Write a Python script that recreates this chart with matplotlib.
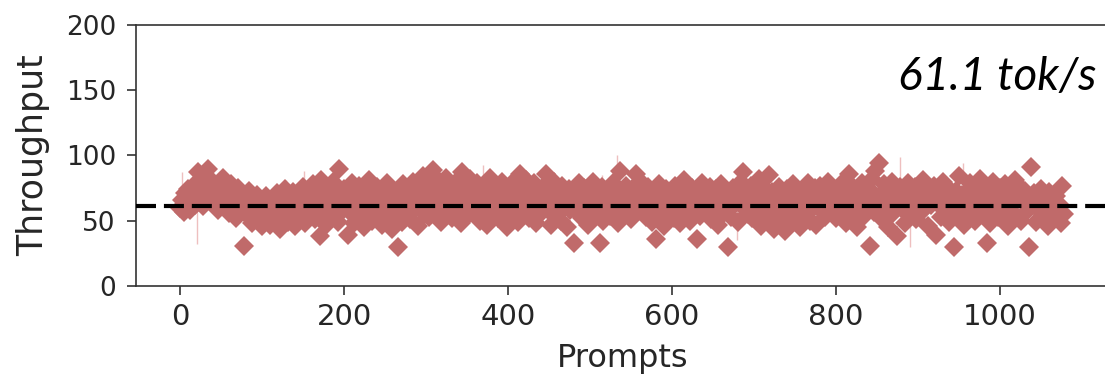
import matplotlib

matplotlib.use("Agg")
import matplotlib.pyplot as plt
import numpy as np

# Per-prompt throughput (tok/s); one value every 2 prompts.
throughput = [
    60, 66, 57, 71, 63, 74, 58, 68, 77, 62, 70, 87, 65, 79, 61, 73, 82, 90, 69, 76,
    80, 64, 72, 58, 77, 67, 83, 60, 74, 69, 56, 78, 63, 71, 52, 75, 66, 59, 70, 31,
    68, 54, 73, 61, 48, 66, 57, 70, 51, 64, 46, 59, 69, 53, 62, 47, 65, 56, 50, 71,
    58, 44, 67, 52, 74, 61, 49, 63, 55, 72, 46, 60, 68, 53, 57, 76, 48, 64, 59, 70,
    62, 78, 51, 73, 66, 38, 81, 57, 69, 47, 75, 63, 55, 80, 60, 72, 49, 90, 67, 58,
    74, 64, 39, 70, 56, 79, 48, 66, 61, 77, 53, 69, 45, 73, 59, 81, 62, 50, 68, 57,
    76, 54, 65, 47, 71, 60, 79, 52, 67, 44, 73, 58, 63, 30, 69, 49, 78, 56, 64, 72,
    51, 66, 80, 59, 70, 46, 75, 62, 84, 55, 68, 77, 53, 72, 89, 64, 58, 81, 67, 49,
    74, 61, 83, 56, 69, 78, 52, 65, 80, 59, 71, 48, 87, 63, 76, 54, 68, 82, 60, 73,
    57, 79, 64, 50, 72, 61, 77, 47, 68, 83, 55, 70, 62, 75, 52, 66, 80, 58, 73, 45,
    69, 60, 78, 54, 71, 65, 49, 86, 63, 75, 57, 81, 67, 52, 74, 61, 79, 48, 70, 64,
    56, 76, 62, 86, 58, 72, 47, 68, 80, 55, 73, 63, 50, 77, 60, 69, 45, 74, 58, 66,
    33, 71, 57, 79, 64, 52, 75, 60, 68, 47, 73, 62, 80, 55, 70, 59, 33, 76, 50, 67,
    61, 74, 54, 70, 79, 57, 65, 48, 88, 63, 72, 56, 77, 59, 68, 51, 75, 62, 86, 66,
    58, 80, 64, 71, 53, 76, 60, 67, 49, 73, 36, 62, 78, 55, 69, 46, 74, 63, 57, 70,
    65, 52, 77, 60, 71, 48, 68, 81, 56, 73, 62, 50, 75, 58, 67, 36, 72, 54, 79, 63,
    70, 57, 66, 76, 51, 69, 61, 74, 47, 64, 78, 55, 72, 59, 30, 68, 53, 75, 62, 71,
    49, 66, 80, 87, 60, 73, 55, 69, 77, 52, 64, 71, 58, 82, 46, 67, 75, 61, 53, 85,
    63, 72, 44, 68, 57, 76, 51, 65, 70, 42, 74, 59, 66, 48, 78, 61, 55, 71, 45, 67,
    73, 56, 64, 79, 50, 69, 60, 75, 47, 66, 77, 58, 71, 53, 63, 80, 57, 68, 62, 74,
    52, 70, 65, 78, 59, 73, 48, 67, 86, 61, 56, 75, 69, 45, 72, 63, 79, 54, 66, 60,
    74, 31, 82, 57, 88, 65, 94, 70, 51, 78, 62, 73, 45, 68, 80, 56, 71, 38, 64, 76,
    59, 72, 48, 67, 79, 55, 70, 63, 76, 51, 65, 73, 57, 81, 60, 68, 46, 74, 62, 69,
    77, 39, 64, 71, 53, 80, 58, 67, 75, 49, 69, 61, 30, 73, 56, 84, 63, 70, 47, 66,
    72, 55, 79, 62, 68, 50, 76, 59, 82, 65, 57, 71, 33, 74, 48, 67, 80, 60, 69, 53,
    75, 63, 58, 78, 66, 46, 72, 61, 69, 81, 54, 67, 76, 50, 64, 73, 57, 70, 30, 91,
    62, 71, 49, 66, 58, 74, 53, 68, 60, 46, 72, 56, 65, 51, 69, 59, 63, 48, 77, 55,
]
prompts = np.arange(len(throughput)) * 2

# Spread (min/max) for the prompts whose error bars stick out of the cloud.
err_prompts = [2, 20, 129, 151, 209, 369, 515, 533, 679, 682, 878, 890, 955]
err_low = [60, 32, 55, 60, 62, 60, 66, 62, 35, 60, 65, 30, 65]
err_high = [87, 75, 81, 88, 86, 93, 85, 100, 60, 82, 99, 60, 94]

MEAN_TPUT = 61.1

MARKER_COLOR = "#c06a6a"
ERR_COLOR = "#eab0b0"
TEXT_COLOR = "#262626"


def main() -> None:
    fig = plt.figure(figsize=(11.05, 3.79), dpi=100)
    ax = fig.add_axes([0.1231, 0.2454, 0.8805, 0.6887])

    ax.vlines(err_prompts, err_low, err_high, color=ERR_COLOR, lw=1.0,
              alpha=0.8, zorder=1)
    ax.plot(prompts, throughput, linestyle="none", marker="D", markersize=10,
            markeredgewidth=0, color=MARKER_COLOR, zorder=2)
    ax.axhline(MEAN_TPUT, color="black", lw=3.0, dashes=(4.8, 1.9), zorder=3)

    ax.set_xlim(-54, 1133)
    ax.set_ylim(0, 200)
    ax.set_xticks([0, 200, 400, 600, 800, 1000])
    ax.set_yticks([0, 50, 100, 150, 200])

    for side in ("left", "bottom", "top", "right"):
        ax.spines[side].set_color("#333333")
        ax.spines[side].set_linewidth(1.2)
    ax.tick_params(axis="both", colors="#333333", width=1.2, length=6.5,
                   labelcolor=TEXT_COLOR)
    ax.tick_params(axis="x", labelsize=21, pad=6)
    ax.tick_params(axis="y", labelsize=19, pad=8)

    ax.set_xlabel("Prompts", fontsize=23, color=TEXT_COLOR)
    ax.set_ylabel("Throughput", fontsize=25, color=TEXT_COLOR)
    ax.xaxis.set_label_coords(0.5, -0.218)
    ax.yaxis.set_label_coords(-0.088, 0.5)

    fig.text(1097 / 1105, 1 - 90 / 379, f"{MEAN_TPUT} tok/s", family="Lato",
             style="italic", fontsize=33, color="black", ha="right", va="baseline")

    fig.savefig("out.png", dpi=100)
    plt.close(fig)


if __name__ == "__main__":
    main()
